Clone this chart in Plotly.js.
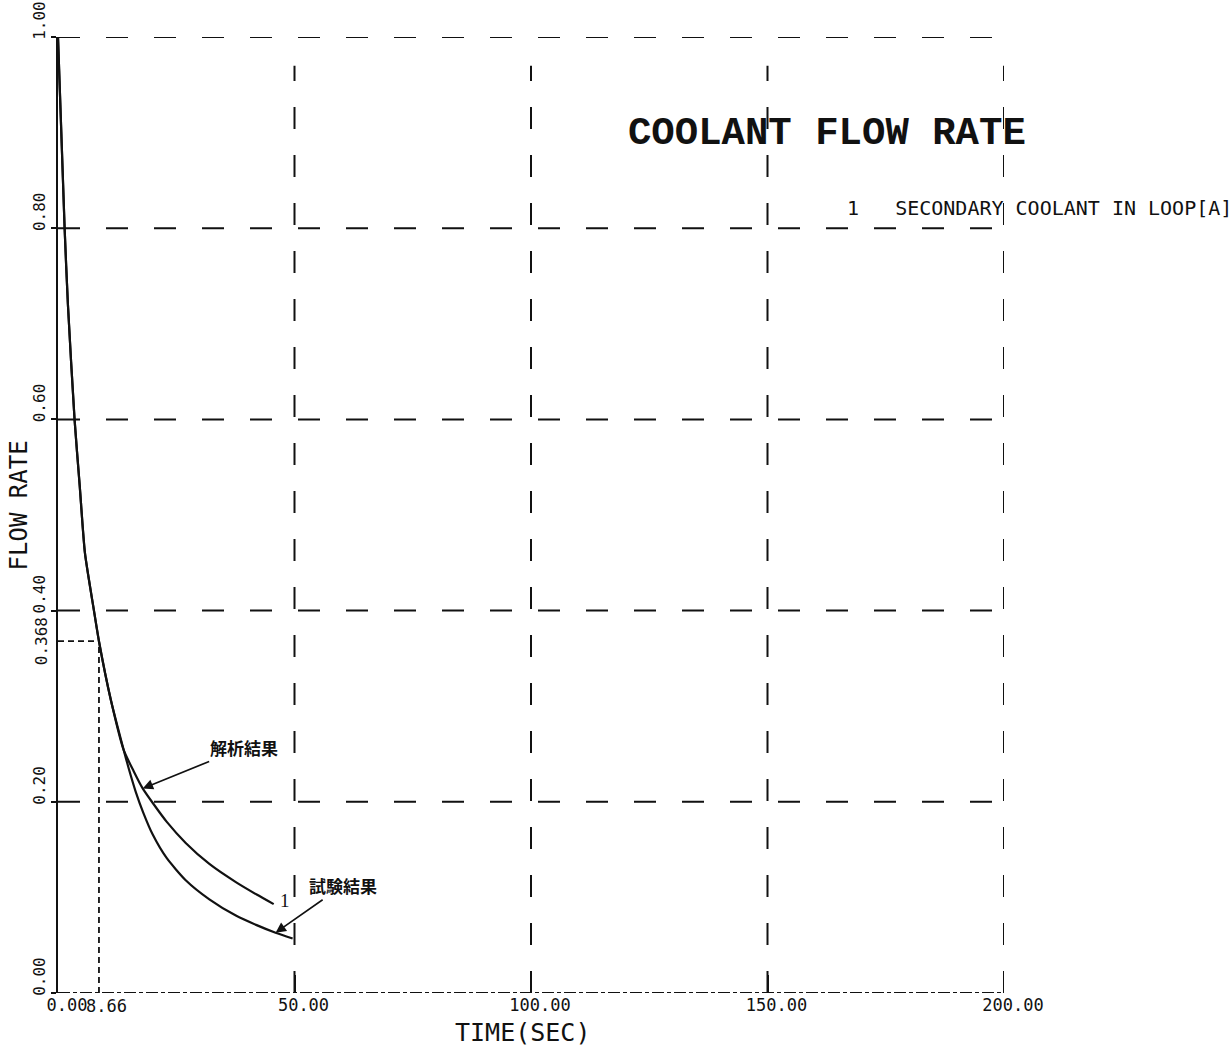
<!DOCTYPE html>
<html>
<head>
<meta charset="utf-8">
<script src="https://cdn.plot.ly/plotly-3.0.1.min.js"></script>
<style>
  html, body { margin: 0; padding: 0; background: #fff; }
  #chart { width: 1232px; height: 1052px; }
</style>
</head>
<body>
<div id="chart"></div>
<script>
// Secondary coolant flow rate in loop [A] after pump trip (normalised)

// Analysis result (curve 1)
const tAnalysis = [0, 1.4, 2.1, 3.5, 4.6, 5.7, 7.6, 8.66, 11.2, 13.9, 16, 17.9, 20, 23, 27, 32, 37.6, 42, 45.6];
const qAnalysis = [1.0, 0.80, 0.72, 0.60, 0.53, 0.46, 0.40, 0.368, 0.306, 0.254, 0.232, 0.214, 0.199, 0.179, 0.157, 0.135, 0.116, 0.103, 0.093];

// Test result
const tTest = [0, 1.4, 2.1, 3.5, 4.6, 5.7, 7.6, 8.66, 11.2, 13.9, 15, 16.4, 18, 20, 23, 27, 32, 37.6, 42, 46, 49.6];
const qTest = [1.0, 0.80, 0.72, 0.60, 0.53, 0.46, 0.40, 0.368, 0.306, 0.254, 0.234, 0.211, 0.189, 0.166, 0.141, 0.118, 0.098, 0.081, 0.071, 0.063, 0.057];

// Time constant marker (flow falls to 1/e)
const tauTime = 8.66;
const tauFlow = 0.368;

// Axis ticks
const xTickVals = [0, 50, 100, 150, 200];
const xTickText = ['0.00', '50.00', '100.00', '150.00', '200.00'];
const yTickVals = [0, 0.2, 0.4, 0.6, 0.8, 1.0];
const yTickText = ['0.00', '0.20', '0.40', '0.60', '0.80', '1.00'];

// Grid positions
const xGridVals = [50, 100, 150, 200];
const yGridVals = [0.2, 0.4, 0.6, 0.8, 1.0];

// Texts
const chartTitle = 'COOLANT FLOW RATE';
const seriesLabel = '1\u00a0\u00a0\u00a0SECONDARY COOLANT IN LOOP[A]';
const xTitle = 'TIME(SEC)';
const yTitle = 'FLOW RATE';
const labelAnalysis = '解析結果';
const labelTest = '試験結果';

const INK = '#111';
const MONO = 'DejaVu Sans Mono, Liberation Mono, monospace';
const CJK = 'Noto Sans CJK JP, Noto Sans CJK SC, sans-serif';

const traces = [
  {
    x: tAnalysis, y: qAnalysis, type: 'scatter', mode: 'lines',
    name: labelAnalysis,
    line: { color: INK, width: 2.2, shape: 'spline', smoothing: 0.6 },
    hoverinfo: 'x+y'
  },
  {
    x: tTest, y: qTest, type: 'scatter', mode: 'lines',
    name: labelTest,
    line: { color: INK, width: 2.2, shape: 'spline', smoothing: 0.6 },
    hoverinfo: 'x+y'
  }
];

const GRID_DASH = '22px,26px';
const shapes = [];
yGridVals.forEach(v => shapes.push({
  type: 'line', xref: 'x', yref: 'y', x0: 0, x1: 200, y0: v, y1: v,
  line: { color: INK, width: 2, dash: GRID_DASH }, layer: 'below'
}));
xGridVals.forEach(v => shapes.push({
  type: 'line', xref: 'x', yref: 'y', x0: v, x1: v, y0: 0, y1: 0.97,
  line: { color: INK, width: 2, dash: GRID_DASH }, layer: 'below'
}));
// bottom axis, plotted as a finely broken line
shapes.push({
  type: 'line', xref: 'x', yref: 'y', x0: 0, x1: 200, y0: 0, y1: 0,
  line: { color: INK, width: 1.8, dash: '12px,3px,4px,3px' }
});
// time-constant guides
shapes.push({
  type: 'line', xref: 'x', yref: 'y', x0: 0, x1: tauTime, y0: tauFlow, y1: tauFlow,
  line: { color: INK, width: 1.8, dash: '6px,4px' }
});
shapes.push({
  type: 'line', xref: 'x', yref: 'y', x0: tauTime, x1: tauTime, y0: 0, y1: tauFlow,
  line: { color: INK, width: 1.8, dash: '6px,4px' }
});

const nA = tAnalysis.length - 1;
const iA = tAnalysis.indexOf(17.9);
const iT = tTest.indexOf(46);

const annotations = [
  // curve number at the end of curve 1
  { x: tAnalysis[nA], y: qAnalysis[nA], xref: 'x', yref: 'y', text: '1',
    showarrow: false, xanchor: 'left', yanchor: 'middle', xshift: 4, yshift: 4,
    font: { family: 'Liberation Serif, serif', size: 19, color: INK } },
  // callouts
  { x: tAnalysis[iA], y: qAnalysis[iA], xref: 'x', yref: 'y', text: labelAnalysis,
    showarrow: true, ax: 101, ay: -41, arrowhead: 2, arrowsize: 1.3, arrowwidth: 1.6,
    arrowcolor: INK, font: { family: CJK, size: 17, color: INK, weight: 'bold' } },
  { x: tTest[iT], y: qTest[iT], xref: 'x', yref: 'y', text: labelTest,
    showarrow: true, ax: 67, ay: -47, arrowhead: 2, arrowsize: 1.3, arrowwidth: 1.6,
    arrowcolor: INK, font: { family: CJK, size: 17, color: INK, weight: 'bold' } },
  // series description
  { x: 0.8324, y: 0.821, xref: 'paper', yref: 'paper', text: seriesLabel,
    showarrow: false, xanchor: 'left', yanchor: 'middle',
    font: { family: MONO, size: 20, color: INK } },
  // time-constant labels on the axes
  { x: 0, y: tauFlow, xref: 'paper', yref: 'y', text: tauFlow.toFixed(3),
    showarrow: false, textangle: -90, xanchor: 'center', yanchor: 'middle', xshift: -17,
    font: { family: MONO, size: 16, color: INK } },
  { x: tauTime, y: 0, xref: 'x', yref: 'paper', text: tauTime.toFixed(2),
    showarrow: false, xanchor: 'center', yanchor: 'top', xshift: 8, yshift: -1,
    font: { family: MONO, size: 17, color: INK } },
  // axis titles
  { x: 0, y: 0.51, xref: 'paper', yref: 'paper', text: yTitle,
    showarrow: false, textangle: -90, xanchor: 'center', yanchor: 'middle', xshift: -39,
    font: { family: MONO, size: 24, color: INK } },
  { x: 0.491, y: 0, xref: 'paper', yref: 'paper', text: xTitle,
    showarrow: false, xanchor: 'center', yanchor: 'middle', yshift: -39,
    font: { family: MONO, size: 25, color: INK } }
];

const layout = {
  width: 1232, height: 1052,
  margin: { l: 58, r: 228, t: 37, b: 59 },
  paper_bgcolor: '#fff', plot_bgcolor: '#fff',
  showlegend: false,
  title: {
    text: chartTitle, xref: 'container', yref: 'container',
    x: 0.5097, xanchor: 'left', y: 0.8764, yanchor: 'middle',
    font: { family: 'Liberation Mono, DejaVu Sans Mono, monospace', size: 39, color: INK, weight: 'bold' }
  },
  xaxis: {
    range: [0, 200], tickvals: xTickVals, ticktext: xTickText,
    ticks: 'inside', ticklen: 18, tickwidth: 2, tickcolor: INK,
    showgrid: false, zeroline: false, showline: false,
    ticklabelshift: 9,
    tickfont: { family: MONO, size: 17, color: INK }
  },
  yaxis: {
    range: [0, 1], tickvals: yTickVals, ticktext: yTickText,
    ticks: 'outside', ticklen: 5, tickwidth: 2, tickcolor: INK,
    showgrid: false, zeroline: false, showline: true, linewidth: 2, linecolor: INK,
    tickangle: -90, ticklabelshift: -14, ticklabeloverflow: 'allow',
    tickfont: { family: MONO, size: 16, color: INK }
  },
  shapes: shapes,
  annotations: annotations
};

Plotly.newPlot('chart', traces, layout, { displayModeBar: false, staticPlot: true });
</script>
</body>
</html>
